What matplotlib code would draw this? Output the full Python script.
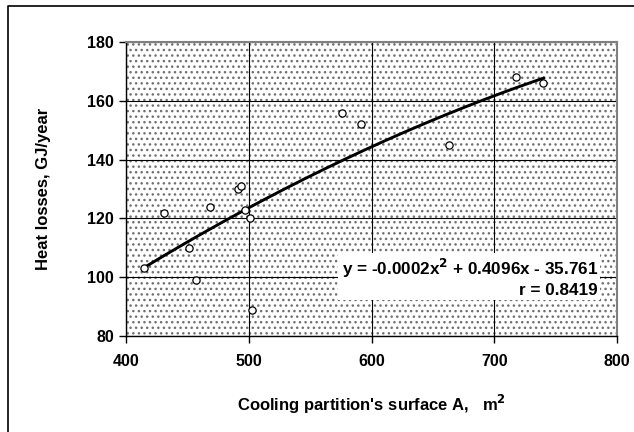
import numpy as np
import matplotlib.pyplot as plt
from matplotlib.lines import Line2D
from matplotlib.patches import Rectangle

plt.rcParams['font.family'] = ['Liberation Sans', 'DejaVu Sans']
plt.rcParams['font.weight'] = 'bold'
plt.rcParams['axes.labelweight'] = 'bold'
plt.rcParams['mathtext.default'] = 'bf'
plt.rcParams['hatch.color'] = '#707070'
plt.rcParams['hatch.linewidth'] = 1.0

# surface A (m2) and heat losses (GJ/year)
area = [414, 431, 451, 457, 468, 491, 493, 497, 501, 502, 576, 591, 663, 718, 740]
losses = [103, 122, 110, 99, 124, 130, 131, 123, 120, 89, 156, 152, 145, 168, 166]

x_ticks = [400, 500, 600, 700, 800]
y_ticks = [80, 100, 120, 140, 160, 180]

fig = plt.figure(figsize=(6.34, 4.32), dpi=100)
ax = fig.add_axes([0.1995, 0.2222, 0.7737, 0.6806])

# dotted background
ax.patch.set_facecolor('white')
ax.patch.set_hatch('...')
ax.patch.set_edgecolor('#707070')

ax.set_xlim(400, 800)
ax.set_ylim(80, 180)
ax.set_xticks(x_ticks)
ax.set_yticks(y_ticks)
ax.grid(True, color='black', linewidth=0.8)
ax.set_axisbelow(True)

for side in ['top', 'right']:
    ax.spines[side].set_color('#808080')
    ax.spines[side].set_linewidth(1.5)
for side in ['left', 'bottom']:
    ax.spines[side].set_color('black')
    ax.spines[side].set_linewidth(1.0)

ax.tick_params(direction='out', length=5, width=1, labelsize=11.5)
ax.tick_params(axis='x', pad=8)
ax.tick_params(axis='y', pad=4)

# quadratic trend line
coef = np.polyfit(area, losses, 2)
xs = np.linspace(min(area), max(area), 200)
ax.plot(xs, np.polyval(coef, xs), color='black', linewidth=2.1, zorder=3)

ax.plot(area, losses, 'o', markerfacecolor='white', markeredgecolor='black',
        markersize=5.2, markeredgewidth=0.9, linestyle='none', zorder=4)

# equation box
ax.add_patch(Rectangle((0.431, 0.1224), 0.534, 0.16, transform=ax.transAxes,
                       facecolor='white', edgecolor='none', zorder=5))
ax.text(0.9613, 0.231, 'y = -0.0002x$^{2}$ + 0.4096x - 35.761',
        transform=ax.transAxes, ha='right', va='center', fontsize=12.3, zorder=6)
ax.text(0.9613, 0.156, 'r = 0.8419', transform=ax.transAxes, ha='right',
        va='center', fontsize=12.3, zorder=6)

ax.set_xlabel("Cooling partition's surface A,   m$^{2}$", fontsize=12, labelpad=17)
ax.set_ylabel('Heat losses, GJ/year', fontsize=12, labelpad=26)

# outer frame, only top and left edges visible
fig.add_artist(Line2D([0.013, 0.013, 1.0], [0.0, 0.987, 0.987], transform=fig.transFigure,
                      color='black', linewidth=1.2))

plt.savefig('out.png', dpi=100)
plt.close()
